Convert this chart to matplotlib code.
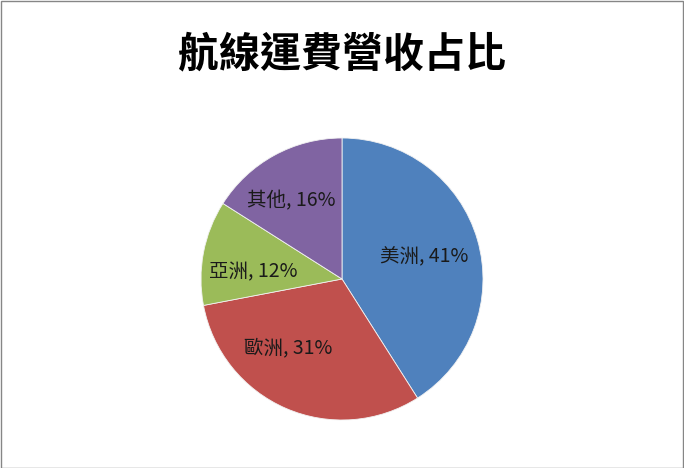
import matplotlib
matplotlib.use("Agg")
import matplotlib.pyplot as plt
import numpy as np
from matplotlib.patches import Rectangle

plt.rcParams['font.family'] = ['Noto Sans CJK TC', 'DejaVu Sans']

title = "航線運費營收占比"
categories = ["美洲", "歐洲", "亞洲", "其他"]
values = [41, 31, 12, 16]
colors = ["#4F81BD", "#C0504D", "#9BBB59", "#8064A2"]

# label nudges (pixels) relative to the mid-angle anchor, layout only
label_nudge_px = [(-2, -2), (-19, 11), (-3, -9), (-9, 2)]

W, H = 684, 468
fig = plt.figure(figsize=(W / 100, H / 100), dpi=100)

cx, cy, r = 342, 279, 141
ax = fig.add_axes([(cx - r) / W, 1 - (cy + r) / H, 2 * r / W, 2 * r / H])
wedges, _ = ax.pie(values, colors=colors, startangle=90, counterclock=False,
                   radius=1.0, wedgeprops=dict(edgecolor="#F2F2F2", linewidth=0.6))
ax.set_xlim(-1, 1)
ax.set_ylim(-1, 1)
ax.set_aspect('equal')
ax.axis('off')

total = sum(values)
for w, cat, v, (nx, ny) in zip(wedges, categories, values, label_nudge_px):
    ang = np.deg2rad((w.theta1 + w.theta2) / 2)
    d = 0.62
    x = d * np.cos(ang) + nx / r
    y = d * np.sin(ang) + ny / r
    ax.text(x, y, f"{cat}, {round(100 * v / total)}%",
            ha='center', va='center', fontsize=14, color='#1a1a1a')

fig.text(0.5, 1 - 54 / H, title, ha='center', va='center', fontsize=29.5,
         fontweight='bold', color='black')

fig.patches.append(Rectangle((0.5 / W, 0.5 / H), 1 - 1.5 / W, 1 - 1.5 / H,
                             transform=fig.transFigure, fill=False,
                             edgecolor='#868686', linewidth=1))

fig.savefig("out.png", dpi=100)
